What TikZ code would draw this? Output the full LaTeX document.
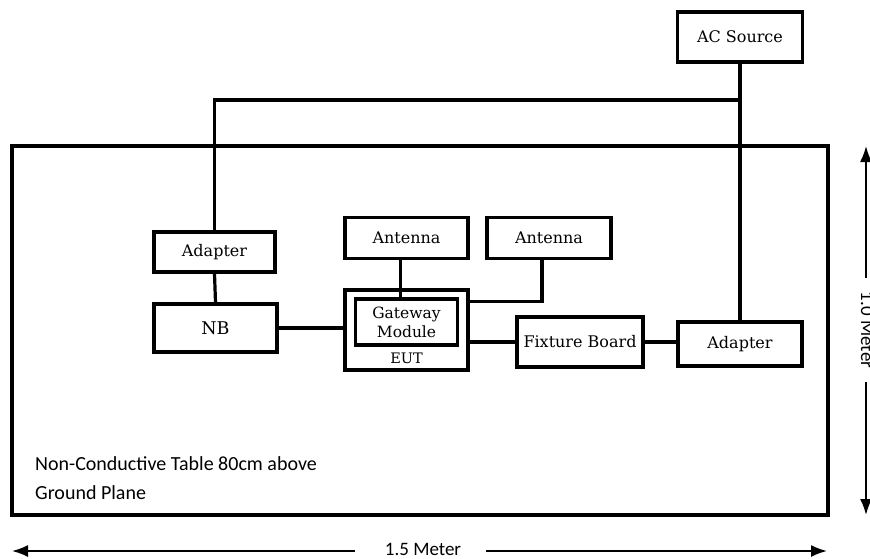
\documentclass[tikz,border=0pt]{standalone}
\usepackage{fontspec}
\setmainfont{DejaVu Serif}
\newfontfamily\labelfont{Carlito}
\usetikzlibrary{arrows.meta}
\begin{document}
\begin{tikzpicture}[x=1pt,y=-1pt,
  unit/.style={draw=black,line width=3.2pt,fill=white,inner sep=0pt,align=center,
    font=\fontsize{16}{18}\selectfont},
  wire/.style={line width=3.2pt},
  dimtip/.tip={Latex[length=16pt,width=12pt]},
  dim/.style={line width=1.8pt,-dimtip},
  note/.style={font=\labelfont\fontsize{20}{24}\selectfont,anchor=base west,inner sep=0pt},
  dimlabel/.style={font=\labelfont\fontsize{19}{20}\selectfont,inner sep=0pt,anchor=base}]
\useasboundingbox (0,0) rectangle (870,558);

% test table
\draw[line width=3.2pt] (12,146) rectangle (828,515);

% equipment
\node[unit,minimum width=125pt,minimum height=50pt] (ac) at (740,37) {AC Source};
\node[unit,minimum width=121pt,minimum height=40pt] (adL) at (214.5,252) {Adapter};
\node[unit,minimum width=123pt,minimum height=48pt,font=\fontsize{17.5}{20}\selectfont] (nb) at (215.5,328) {NB};
\node[unit,minimum width=123pt,minimum height=80pt] (eut) at (406.5,330) {};
\node[font=\fontsize{14.5}{16}\selectfont,inner sep=0pt] (eutlbl) at (406.5,358) {EUT};
\node[unit,minimum width=102pt,minimum height=46pt,font=\fontsize{15.5}{19}\selectfont] (gw) at (406.5,322) {Gateway\\Module};
\node[unit,minimum width=123pt,minimum height=41pt] (ant1) at (406.5,238) {Antenna};
\node[unit,minimum width=124pt,minimum height=41pt] (ant2) at (549,238) {Antenna};
\node[unit,minimum width=126pt,minimum height=50pt] (fb) at (580,342) {Fixture Board};
\node[unit,minimum width=124pt,minimum height=44pt] (adR) at (740,344) {Adapter};

% power and signal wiring
\coordinate (trunk) at (0,100);
\draw[wire] (ac.south) -- (ac.south |- adR.north);
\draw[wire] (ac.south |- trunk) -| (adL.north);
\draw[wire] (adL.south) -- (nb.north);
\draw[wire] (nb.east) -- (nb.east -| eut.west);
\coordinate (a1) at ([xshift=-6pt]ant1.south);
\draw[wire] (a1) -- (a1 |- gw.north);
\coordinate (a2) at ([xshift=-7pt]ant2.south);
\coordinate (a2in) at ([yshift=-13pt]eut.north east);
\draw[wire] (a2) |- (a2in);
\draw[wire] (fb.west) -- (fb.west -| eut.east);
\draw[wire] (fb.east) -- (fb.east -| adR.west);

% table note
\node[note] (n1) at (35,470) {Non-Conductive Table 80cm above};
\node[note] (n2) at (35,499) {Ground Plane};

% width dimension
\node[dimlabel] (wlbl) at (423,555) {1.5 Meter};
\coordinate (wl) at (12,551);
\coordinate (wr) at (827,551);
\coordinate (wlgap) at (355,551);
\coordinate (wrgap) at (486,551);
\draw[dim] (wlgap) -- (wl);
\draw[dim] (wrgap) -- (wr);

% depth dimension
\node[dimlabel,rotate=-90] (hlbl) at (861,330) {1.0 Meter};
\coordinate (ht) at (866,146);
\coordinate (hb) at (866,515);
\coordinate (htgap) at (866,278);
\coordinate (hbgap) at (866,382);
\draw[dim] (htgap) -- (ht);
\draw[dim] (hbgap) -- (hb);
\end{tikzpicture}
\end{document}
